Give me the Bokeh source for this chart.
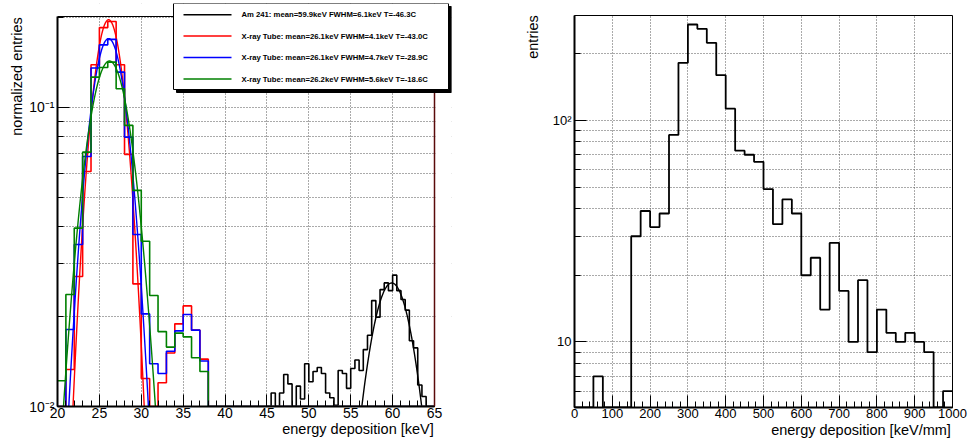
import numpy as np
from bokeh.plotting import figure
from bokeh.layouts import row
from bokeh.models import (FixedTicker, Label, BoxAnnotation, Range1d, LinearAxis, LogAxis)
from bokeh.embed import file_html
from bokeh.resources import INLINE

FONT = "Liberation Sans"

# ---------------- left panel data ----------------
xray_bin_low = list(range(20, 65))          # 1 keV bins
xray_red = [0, 0.0133, 0.0272, 0.0611, 0.139, 0.185, 0.194, 0.139, 0.0697, 0.0257,
            0.0124, 0, 0.0120, 0.0151, 0.0189, 0.0217, 0.0180, 0.0144]
xray_blue = [0, 0.0181, 0.0348, 0.0686, 0.1355, 0.162, 0.169, 0.1313, 0.0796, 0.0376,
             0.0204, 0.0139, 0.0129, 0.0153, 0.0179, 0.0203, 0.0180, 0.0142]
xray_green = [0.0122, 0.0237, 0.0395, 0.0709, 0.1263, 0.136, 0.1418, 0.1155, 0.0871, 0.0528,
              0.0357, 0.0235, 0.0178, 0.0158, 0.0176, 0.0171, 0.01455, 0.0131]

am_bin_low = [45.0, 45.5, 46.0, 46.5, 47.0, 47.5, 48.0, 48.5, 49.0, 49.5,
              50.0, 50.5, 51.0, 51.5, 52.0, 52.5, 53.0, 53.5, 54.0, 54.5,
              55.0, 55.5, 56.0, 56.5, 57.0, 57.5, 58.0, 58.5, 59.0, 59.5,
              60.0, 60.5, 61.0, 61.5, 62.0, 62.5, 63.0, 63.5, 64.0, 64.5]
am241 = [0, 0.0111, 0, 0.0111, 0.0128, 0.0119, 0, 0.0117, 0.0106, 0.0139,
         0.0121, 0.0131, 0.0135, 0.0129, 0.0111, 0.0107, 0.0101, 0.0132, 0.0129, 0.0115,
         0.0134, 0.0143, 0.0132, 0.0155, 0.0173, 0.0226, 0.0199, 0.0246, 0.0259, 0.0244,
         0.0275, 0.0244, 0.0228, 0.0210, 0.0166, 0.0157, 0.0118, 0.0108, 0, 0]

# gaussian fits (mean, FWHM from legend; amplitude)
fit_mean = [59.9, 26.1, 26.1, 26.2]
fit_fwhm = [6.1, 4.1, 4.7, 5.6]
fit_amp = [0.0259, 0.1965, 0.170, 0.143]

series_colors = ["black", "#ff0000", "#0000ff", "#008000"]
legend_texts = ["Am 241: mean=59.9keV FWHM=6.1keV T=-46.3C",
                "X-ray Tube: mean=26.1keV FWHM=4.1keV T=-43.0C",
                "X-ray Tube: mean=26.1keV FWHM=4.7keV T=-28.9C",
                "X-ray Tube: mean=26.2keV FWHM=5.6keV T=-18.6C"]

left_xticks = [20, 25, 30, 35, 40, 45, 50, 55, 60, 65]
left_yticks = [0.01, 0.1]
left_ylabels = ["10\u207b\u00b2", "10\u207b\u00b9"]
left_xtitle = "energy deposition [keV]"
left_ytitle = "normalized entries"

# ---------------- right panel data ----------------
r_bin_low = [0, 25, 50, 75, 100, 125, 150, 175, 200, 225, 250, 275, 300, 325, 350, 375,
             400, 425, 450, 475, 500, 525, 550, 575, 600, 625, 650, 675, 700, 725, 750,
             775, 800, 825, 850, 875, 900, 925, 950, 975]
r_counts = [0, 0, 7, 0, 0, 0, 30, 39, 33, 38, 86, 182, 271, 259, 224, 160, 113, 73, 70, 65,
            49, 34, 44, 38, 20, 24, 14, 28, 17, 10, 19, 9, 14, 11, 10, 11, 10, 9, 0, 6]
right_xticks = [0, 100, 200, 300, 400, 500, 600, 700, 800, 900, 1000]
right_yticks = [10, 100]
right_ylabels = ["10", "10\u00b2"]
right_xtitle = "energy deposition [keV/mm]"
right_ytitle = "entries"

TITLE_SIZE = "14.5px"


def step_xy(lows, width, vals, floor):
    xs, ys = [], []
    for lo, v in zip(lows, vals):
        y = max(v, floor)
        xs += [lo, lo + width]
        ys += [y, y]
    return xs, ys


def style_axes(p, tick_font):
    for ax in (p.xaxis[0], p.yaxis[0]):
        ax.axis_line_width = 2
        ax.axis_line_color = "black"
        ax.major_tick_out = 0
        ax.minor_tick_out = 0
        ax.major_tick_in = 12
        ax.minor_tick_in = 6
        ax.major_tick_line_color = "black"
        ax.minor_tick_line_color = "black"
        ax.major_label_text_font = FONT
        ax.major_label_text_font_size = tick_font
        ax.major_label_text_color = "black"
    p.xaxis.major_label_standoff = 1
    p.yaxis.major_label_standoff = 3
    p.xgrid.grid_line_color = "#555555"
    p.xgrid.grid_line_dash = "1 2"
    p.ygrid.grid_line_color = "#555555"
    p.ygrid.grid_line_dash = "1 2"
    p.ygrid.minor_grid_line_color = "#555555"
    p.ygrid.minor_grid_line_dash = "1 2"
    p.background_fill_color = "white"
    p.border_fill_color = "white"
    if "frame_align" in p.properties():
        p.frame_align = False


def title_axis(cls, at, text, orientation, standoff):
    """An outer axis with no line/ticks whose single tick label is the axis title,
    centred at data position `at`."""
    ax = cls(ticker=FixedTicker(ticks=[at], minor_ticks=[]),
             major_label_overrides={at: text}, major_label_orientation=orientation,
             major_label_standoff=standoff, axis_line_color=None,
             major_tick_line_color=None, minor_tick_line_color=None,
             major_tick_in=0, major_tick_out=0, minor_tick_in=0, minor_tick_out=0,
             major_label_text_font=FONT, major_label_text_font_size=TITLE_SIZE,
             major_label_text_color="black")
    return ax


# ---------------- left figure ----------------
# visible frame: x 57..434, y 16..406 ; the plotting frame is extended to the
# top (y=3) and right (x=451) so that the legend box can overhang it.
L_LEFT, L_BOTTOM = 57, 406
x1min, x1max = 20, 65
y1min, y1max = 0.01, 0.2015
px_per_kev = 377 / (x1max - x1min)
px_per_dec = 390 / np.log10(y1max / y1min)
x1ext = x1min + 394 / px_per_kev
y1ext = y1min * 10 ** (403 / px_per_dec)

p1 = figure(frame_width=394, frame_height=403, min_border_left=L_LEFT,
            min_border_right=29, min_border_top=3, min_border_bottom=39,
            x_range=Range1d(x1min, x1ext), y_range=Range1d(y1min, y1ext), y_axis_type="log",
            output_backend="svg", toolbar_location=None)
style_axes(p1, "14px")
p1.outline_line_color = None
p1.xaxis.bounds = (x1min, x1max)
p1.yaxis.bounds = (y1min, y1max)
p1.xaxis.ticker = FixedTicker(ticks=left_xticks, minor_ticks=list(range(20, 66)))
minor_l = [0.02, 0.03, 0.04, 0.05, 0.06, 0.07, 0.08, 0.09, 0.2]
p1.yaxis.ticker = FixedTicker(ticks=left_yticks, minor_ticks=minor_l)
p1.yaxis.major_label_overrides = {t: s for t, s in zip(left_yticks, left_ylabels)}

hists = [(am_bin_low, 0.5, am241),
         (xray_bin_low, 1.0, xray_red + [0] * (len(xray_bin_low) - len(xray_red))),
         (xray_bin_low, 1.0, xray_blue + [0] * (len(xray_bin_low) - len(xray_blue))),
         (xray_bin_low, 1.0, xray_green + [0] * (len(xray_bin_low) - len(xray_green)))]
for (lows, w, vals), col, mu, fw, amp in zip(hists, series_colors, fit_mean, fit_fwhm, fit_amp):
    xs, ys = step_xy(lows, w, vals, y1min)
    p1.line(xs, ys, line_color=col, line_width=1.6)
    sig = fw / 2.3548
    xf = np.linspace(mu - 3.2 * sig, mu + 3.2 * sig, 200)
    yf = amp * np.exp(-0.5 * ((xf - mu) / sig) ** 2)
    p1.line(xf, yf, line_color=col, line_width=1.4)


def sx1(X):
    return X - L_LEFT


def sy1(Y):
    return L_BOTTOM - Y


def sbox(p, l, r, t, b, **kw):
    p.add_layout(BoxAnnotation(left=sx1(l), right=sx1(r), top=sy1(t), bottom=sy1(b),
                               left_units="screen", right_units="screen",
                               top_units="screen", bottom_units="screen", **kw))


# white covers for grid lines running into the overhang area
sbox(p1, 57, 172, 2, 15.5, fill_color="white", fill_alpha=1, line_alpha=0)
sbox(p1, 435, 452, 15.5, 407, fill_color="white", fill_alpha=1, line_alpha=0)
# visible frame outline
p1.add_layout(BoxAnnotation(left=x1min, right=x1max, bottom=y1min, top=y1max, fill_alpha=0,
                            line_color="black", line_width=1, line_alpha=1))
p1.add_layout(BoxAnnotation(left=x1max, right=x1max, bottom=y1min, top=y1max, fill_alpha=0,
                            line_color="#5a0a0a", line_width=1.5, line_alpha=1))

# legend box with shadow
sbox(p1, 176, 451, 6, 92, fill_color="black", fill_alpha=1, line_color="black", line_alpha=1)
sbox(p1, 173, 448, 3, 89, fill_color="white", fill_alpha=1, line_color="black",
     line_width=1, line_alpha=1)
row_y = [14.3, 35.5, 57, 78.5]
for txt, col, ry in zip(legend_texts, series_colors, row_y):
    sbox(p1, 183, 231, ry - 0.8, ry + 0.8, fill_color=col, fill_alpha=1, line_alpha=0)
    p1.add_layout(Label(x=sx1(241), y=sy1(ry), x_units="screen", y_units="screen", text=txt,
                        text_font=FONT, text_font_style="bold", text_font_size="7.7px",
                        text_baseline="middle", text_align="left", text_color="black"))

# axis titles (ROOT style: right/top aligned) as outer title axes
y1_title_at = y1min * 10 ** ((L_BOTTOM - 76) / px_per_dec)      # centre of title
x1_title_at = x1min + (357.5 - L_LEFT) / px_per_kev
p1.add_layout(title_axis(LogAxis, y1_title_at, left_ytitle, "vertical", 2), "left")
p1.add_layout(title_axis(LinearAxis, x1_title_at, left_xtitle, "horizontal", 0), "below")

# ---------------- right figure ----------------
R_LEFT, R_BOTTOM = 94, 407
y2min, y2max = 5.06, 297.6
p2 = figure(frame_width=378, frame_height=392, min_border_left=R_LEFT,
            min_border_right=17, min_border_top=15, min_border_bottom=38,
            x_range=Range1d(0, 1000), y_range=Range1d(y2min, y2max), y_axis_type="log",
            output_backend="svg", toolbar_location=None)
style_axes(p2, "13px")
p2.outline_line_color = "black"
p2.outline_line_width = 1
p2.xaxis.ticker = FixedTicker(ticks=right_xticks, minor_ticks=list(range(0, 1001, 20)))
minor_r = [6, 7, 8, 9, 20, 30, 40, 50, 60, 70, 80, 90, 200]
p2.yaxis.ticker = FixedTicker(ticks=right_yticks, minor_ticks=minor_r)
p2.yaxis.major_label_overrides = {t: s for t, s in zip(right_yticks, right_ylabels)}
xs, ys = step_xy(r_bin_low, 25, r_counts, y2min)
p2.line(xs, ys, line_color="black", line_width=1.8)

px2_dec = 392 / np.log10(y2max / y2min)
y2_title_at = y2min * 10 ** ((R_BOTTOM - 36.5) / px2_dec)
x2_title_at = (860.5 - 480 - R_LEFT) * 1000 / 378
p2.add_layout(title_axis(LogAxis, y2_title_at, right_ytitle, "vertical", 9), "left")
p2.add_layout(title_axis(LinearAxis, x2_title_at, right_xtitle, "horizontal", 1), "below")

layout = row(p1, p2)
open("out.html", "w").write(file_html(layout, INLINE))
